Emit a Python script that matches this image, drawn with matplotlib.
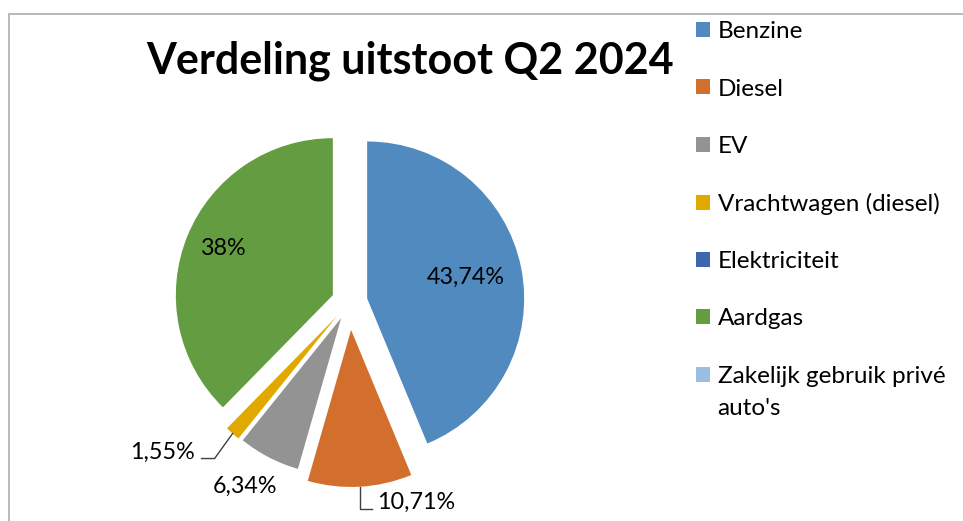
import numpy as np
import matplotlib
matplotlib.use("Agg")
import matplotlib.pyplot as plt
from matplotlib.patches import Patch, Rectangle

# data
categories = ["Benzine", "Diesel", "EV", "Vrachtwagen (diesel)", "Elektriciteit",
              "Aardgas", "Zakelijk gebruik privé\nauto's"]
shares = [43.74, 10.71, 6.34, 1.55, 0.0, 37.66, 0.0]
value_labels = ["43,74%", "10,71%", "6,34%", "1,55%", "", "38%", ""]
colors = ["#508ABF", "#D36F2D", "#939393", "#E1A900", "#3E66AE", "#649C41", "#9ABDE0"]

W, H = 963, 521
plt.rcParams['font.family'] = ['Lato', 'DejaVu Sans']

fig = plt.figure(figsize=(W / 100, H / 100), dpi=100)
ax = fig.add_axes([0, 0, 1, 1])

R = 157
center = (349.5, H - 302)
explode = [18, 28, 18, 19, 18, 18, 18]
wedges, _ = ax.pie(shares, explode=explode, colors=colors, startangle=90,
                   counterclock=False, radius=R, center=center,
                   wedgeprops=dict(linewidth=0))
ax.set_xlim(0, W)
ax.set_ylim(0, H)
ax.set_aspect('equal')
ax.axis('off')

lab_size = 16.8
# inside labels: distance from wedge centre (fraction of radius)
inside = {0: 0.64, 5: 0.75}
# outside labels: offset from the arc midpoint (px)
outside = {1: (56, -16), 2: (-24, -29), 3: (-70, -19)}

for i, w in enumerate(wedges):
    if not value_labels[i]:
        continue
    th = np.deg2rad((w.theta1 + w.theta2) / 2)
    cx, cy = w.center
    if i in inside:
        d = inside[i] * w.r
        ax.text(cx + d * np.cos(th), cy + d * np.sin(th) + 2, value_labels[i],
                ha='center', va='center', fontsize=lab_size)
        continue
    ax_, ay_ = cx + w.r * np.cos(th), cy + w.r * np.sin(th)
    dx, dy = outside[i]
    tx, ty = ax_ + dx, ay_ + dy
    ax.text(tx, ty, value_labels[i], ha='center', va='center', fontsize=lab_size)
    if i == 1:
        x_end = tx - 44
        ax.plot([ax_, ax_, x_end], [ay_, ty - 6, ty - 6], color='#404040', lw=1)
    elif i == 3:
        x_end = tx + 39
        ax.plot([ax_, x_end + 13, x_end], [ay_, ty - 6, ty - 6], color='#404040', lw=1)

fig.text(410 / W, 1 - 61 / H, "Verdeling uitstoot Q2 2024", ha='center', va='center',
         fontsize=31, fontweight='bold')

# legend: first line of each name goes in the legend, extra lines are set below it
leg_size = 17.5
first_lines = [c.split("\n")[0] for c in categories]
handles = [Patch(facecolor=c, edgecolor='none') for c in colors]
leg = fig.legend(handles, first_lines, loc='upper left', bbox_to_anchor=(689 / W, 1 - 14 / H),
                 frameon=False, fontsize=leg_size, handlelength=0.58, handleheight=0.58,
                 handletextpad=0.3, labelspacing=1.49, borderaxespad=0, borderpad=0.3)
fig.canvas.draw()
for c, t in zip(categories, leg.get_texts()):
    rest = c.split("\n")[1:]
    if rest:
        bb = t.get_window_extent()
        fig.text(bb.x0 / W, (bb.y0 - 32) / H, "\n".join(rest), fontsize=leg_size,
                 ha='left', va='bottom')

# chart area border (only top and left are inside the crop)
fig.patches.append(Rectangle((9 / W, -0.2), 1.2, 1.2 - 14 / H, transform=fig.transFigure,
                             fill=False, edgecolor='#ABABAB', lw=1.2))

fig.savefig("out.png", dpi=100)
